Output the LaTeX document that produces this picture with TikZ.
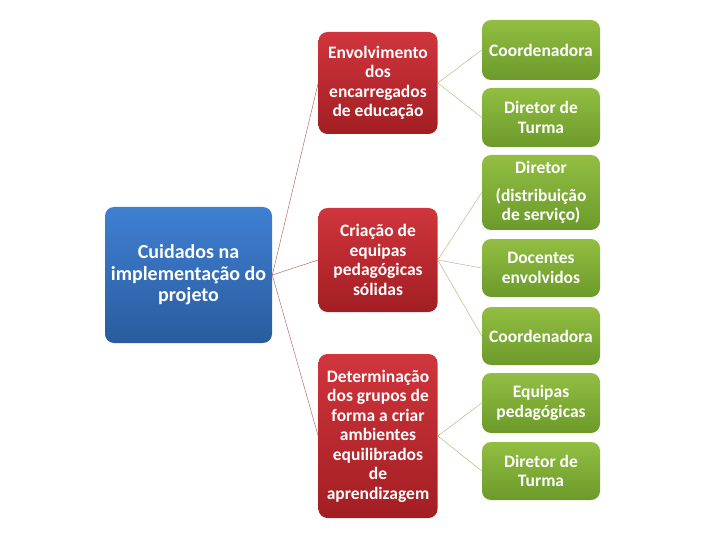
\documentclass[tikz,border=0pt]{standalone}
\usepackage{fontspec}
\setmainfont{Carlito}
\definecolor{bluetop}{HTML}{3F80D2}
\definecolor{bluebot}{HTML}{2A5B9E}
\definecolor{redtop}{HTML}{D0353C}
\definecolor{redbot}{HTML}{A21E23}
\definecolor{greentop}{HTML}{92BE42}
\definecolor{greenbot}{HTML}{6C9A2A}
\definecolor{redline}{HTML}{B05050}
\definecolor{greenline}{HTML}{B8A878}

\begin{document}
\begin{tikzpicture}
            [x=1pt,y=-1pt,semithick,
             box/.style={rounded corners=9pt,text=white,align=center,
                         font=\fontsize{17.5}{19.5}\selectfont\bfseries,inner sep=1pt},
             mainbox/.style={box,top color=bluetop,bottom color=bluebot,
                             minimum width=167pt,minimum height=136pt,
                             font=\fontsize{20}{21.5}\selectfont\bfseries},
             topic/.style={box,top color=redtop,bottom color=redbot,minimum width=119pt},
             item/.style={box,top color=greentop,bottom color=greenbot,minimum width=118pt},
             redlink/.style={draw=redline,thin},
             greenlink/.style={draw=greenline,thin}]

            \useasboundingbox (0,0) rectangle (720,540);

            \node (cuid) [mainbox] at (188.5,275) {Cuidados na\\implementação do\\projeto};

            \node (envol) [topic,minimum height=102pt] at (378,83) {Envolvimento\\dos\\encarregados\\de educação};
            \node (criac) [topic,minimum height=104pt] at (378,260) {Criação de\\equipas\\pedagógicas\\sólidas};
            \node (deter) [topic,minimum height=164pt] at (378,436) {Determinação\\dos grupos de\\forma a criar\\ambientes\\equilibrados\\de\\aprendizagem};

            \node (coord1) [item,minimum height=60pt] at (541,50) {Coordenadora};
            \node (dirt1) [item,minimum height=59pt] at (541,117.5) {Diretor de\\Turma};
            \node (dir) [item,minimum height=75pt] at (541,192.5) {Diretor\\[8pt](distribuição\\de serviço)};
            \node (doc) [item,minimum height=58pt] at (541,268) {Docentes\\envolvidos};
            \node (coord2) [item,minimum height=58pt] at (541,336) {Coordenadora};
            \node (equip) [item,minimum height=60pt] at (541,403) {Equipas\\pedagógicas};
            \node (dirt2) [item,minimum height=58pt] at (541,471) {Diretor de\\Turma};

            \path[redlink] (cuid.east) edge (envol.west)
                                       edge (criac.west)
                                       edge (deter.west);
            \path[greenlink] (envol.east) edge (coord1.west)
                                          edge (dirt1.west);
            \path[greenlink] (criac.east) edge (dir.west)
                                          edge (doc.west)
                                          edge (coord2.west);
            \path[greenlink] (deter.east) edge (equip.west)
                                          edge (dirt2.west);
        \end{tikzpicture}
\end{document}
